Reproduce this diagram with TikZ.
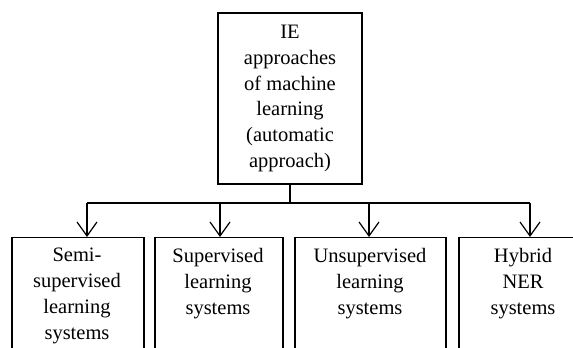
\documentclass[tikz,border=0pt]{standalone}
\usepackage{fontspec}
\setmainfont{Liberation Serif}
\usetikzlibrary{arrows.meta}
\tikzset{
    box/.style = {draw, line width=1.2pt, inner sep=0pt},
    txt/.style = {align=center, inner sep=0pt, font=\fontsize{20.5}{25.8}\selectfont},
    arr/.style = {line width=1.2pt, -{Straight Barb[length=14pt,width=20pt,line width=1.2pt]}}
}
\begin{document}
\begin{tikzpicture}[x=1pt, y=-1pt]
    \useasboundingbox (0,0) rectangle (573,348);
    \clip (0,0) rectangle (573,348);
    % top box
    \node[box, txt, minimum width=144pt, minimum height=171pt] (ie) at (290,98.5)
        {IE\\approaches\\of machine\\learning\\(automatic\\approach)};
    % lower boxes, cut off by the page
    \node[box, minimum width=132pt, minimum height=150pt, anchor=north] (semi) at (78,237) {};
    \node[box, minimum width=128pt, minimum height=150pt, anchor=north] (sup) at (219,237) {};
    \node[box, minimum width=151pt, minimum height=150pt, anchor=north] (unsup) at (370.5,237) {};
    \node[box, minimum width=128pt, minimum height=150pt, anchor=north] (hyb) at (523,237) {};
    \node[txt, anchor=north] (semit) at (77,248) {Semi-\\supervised\\learning\\systems};
    \node[txt, anchor=north] (supt) at (218,248) {Supervised\\learning\\systems};
    \node[txt, anchor=north] (unsupt) at (370,248) {Unsupervised\\learning\\systems};
    \node[txt, anchor=north] (hybt) at (523,248) {Hybrid\\NER\\systems};
    % connectors
    \coordinate (j) at (290,203);
    \coordinate (a1) at (87,203);
    \coordinate (a2) at (220,203);
    \coordinate (a3) at (369,203);
    \coordinate (a4) at (530,203);
    \draw[line width=1.2pt] (ie.south) -- (j);
    \draw[line width=1.2pt] (a1) -- (a4);
    \foreach \i/\n in {1/semi,2/sup,3/unsup,4/hyb}
        \draw[arr] (a\i) -- (a\i |- \n.north);
\end{tikzpicture}
\end{document}
